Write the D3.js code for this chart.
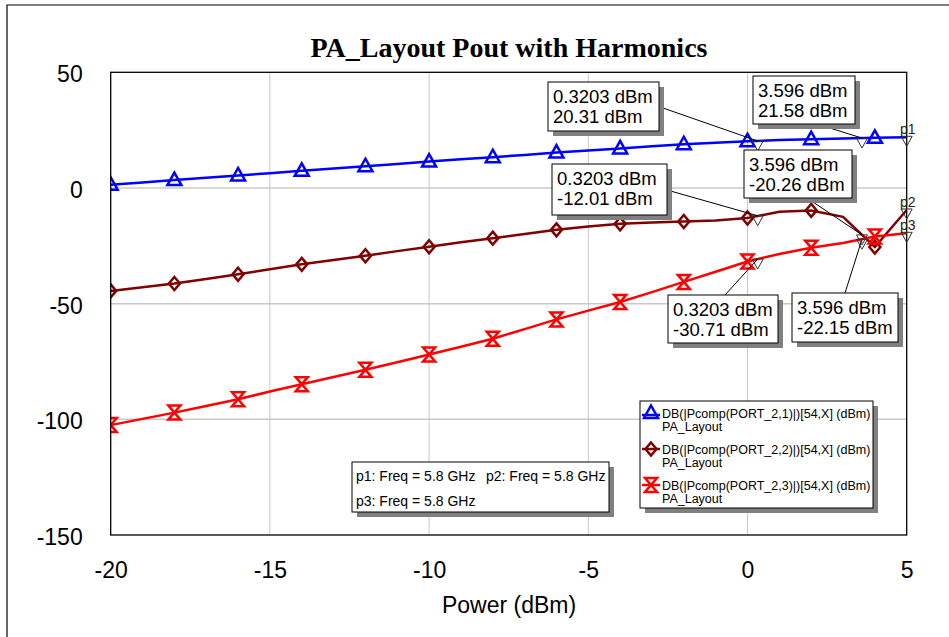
<!DOCTYPE html>
<html>
<head>
<meta charset="utf-8">
<script src="https://cdn.jsdelivr.net/npm/d3@7/dist/d3.min.js"></script>
<style>
  body { margin: 0; background: #fff; }
  #vis { width: 949px; height: 637px; }
  text { font-family: Arial, "Liberation Sans", sans-serif; }
</style>
</head>
<body>
<div id="vis"></div>
<script>
var width = 949;
var height = 637;

// swept input power (dBm)
var power = [-20, -19, -18, -17, -16, -15, -14, -13, -12, -11, -10, -9, -8,
  -7, -6, -5, -4, -3, -2, -1, 0, 1, 2, 3, 4, 5];

// DB(|Pcomp(PORT_2,1)|) fundamental
var harm1 = [1.4, 2.4, 3.4, 4.4, 5.4, 6.4, 7.4, 8.4, 9.4, 10.4, 11.4, 12.4, 13.3,
  14.3, 15.3, 16.2, 17.1, 18.0, 18.9, 19.6, 20.2, 20.7, 21.1, 21.4, 21.7, 21.9];
// DB(|Pcomp(PORT_2,2)|) 2nd harmonic
var harm2 = [-44.5, -42.9, -41.3, -39.3, -37.3, -35.1, -33.0, -31.1, -29.3, -27.3, -25.4, -23.5, -21.7,
  -19.9, -18.1, -16.7, -15.5, -14.9, -14.5, -14.1, -13.0, -10.3, -9.7, -12.5, -25.5, -9.5];
// DB(|Pcomp(PORT_2,3)|) 3rd harmonic
var harm3 = [-102.5, -99.8, -97.1, -94.2, -91.3, -88.0, -84.8, -81.7, -78.6, -75.3, -72.0, -68.6, -65.2,
  -61.0, -56.8, -53.0, -49.3, -45.0, -40.6, -36.2, -31.8, -28.5, -25.8, -23.8, -21.0, -19.6];

var xTicks = [-20, -15, -10, -5, 0, 5];
var yTicks = [50, 0, -50, -100, -150];

var seriesNames = ['DB(|Pcomp(PORT_2,1)|)[54,X] (dBm)', 'DB(|Pcomp(PORT_2,2)|)[54,X] (dBm)', 'DB(|Pcomp(PORT_2,3)|)[54,X] (dBm)'];
var seriesColors = ['#0000ff', '#800000', '#ff0000'];
var seriesShapes = ['triangle', 'diamond', 'hourglass'];

// marker readouts
var markerX = [0.3203, 3.596, 0.3203, 3.596, 0.3203, 3.596];
var markerY = [20.31, 21.58, -12.01, -20.26, -30.71, -22.15];
var markerText = [['0.3203 dBm', '20.31 dBm'], ['3.596 dBm', '21.58 dBm'], ['0.3203 dBm', '-12.01 dBm'],
  ['3.596 dBm', '-20.26 dBm'], ['0.3203 dBm', '-30.71 dBm'], ['3.596 dBm', '-22.15 dBm']];
var freqText = ['p1: Freq = 5.8 GHz', 'p2: Freq = 5.8 GHz', 'p3: Freq = 5.8 GHz'];

var margin = { top: 72.3, bottom: 102, left: 110.7, right: 42.3 };

var svg = d3.select('#vis')
.append('svg')
.attr('width', width)
.attr('height', height);

// outer frame
svg.append('path')
.attr('d', 'M7,637 L7,5 L949,5')
.attr('fill', 'none')
.attr('stroke', '#000')
.attr('stroke-width', 1.2);

var pw = width - margin.left - margin.right;
var ph = height - margin.top - margin.bottom;

var g = svg.append('g')
.attr('transform', 'translate(' + margin.left + ',' + margin.top + ')');

var x_scale = d3.scaleLinear().domain([-20, 5]).range([0, pw]);
var y_scale = d3.scaleLinear().domain([-150, 50]).range([ph, 0]);

// grid
g.selectAll('.gx').data(xTicks.slice(1, -1)).enter()
.append('line')
.attr('x1', function(d) { return x_scale(d); })
.attr('x2', function(d) { return x_scale(d); })
.attr('y1', 0).attr('y2', ph)
.attr('stroke', '#c8c8c8').attr('stroke-width', 1);

g.selectAll('.gy').data(yTicks.slice(1, -1)).enter()
.append('line')
.attr('y1', function(d) { return y_scale(d); })
.attr('y2', function(d) { return y_scale(d); })
.attr('x1', 0).attr('x2', pw)
.attr('stroke', '#c8c8c8').attr('stroke-width', 1.5);

// axes (labels only, ticks hidden); plain hyphen for negatives
var plain = function(d) { return String(d); };
var y_axis = d3.axisLeft(y_scale).tickValues(yTicks).tickFormat(plain).tickSize(0).tickPadding(28);
var x_axis = d3.axisBottom(x_scale).tickValues(xTicks).tickFormat(plain).tickSize(0).tickPadding(27);

g.append('g').call(y_axis)
.call(function(a) { a.select('.domain').remove(); })
.selectAll('text')
.attr('dy', '0.42em')
.style('font-size', '23px')
.style('font-family', 'Arial, "Liberation Sans", sans-serif')
.attr('fill', '#000');

g.append('g')
.attr('transform', 'translate(0,' + ph + ')')
.call(x_axis)
.call(function(a) { a.select('.domain').remove(); })
.selectAll('text')
.style('font-size', '23px')
.style('font-family', 'Arial, "Liberation Sans", sans-serif')
.attr('fill', '#000');

svg.append('text')
.attr('x', 509).attr('y', 613)
.attr('text-anchor', 'middle')
.style('font-size', '23px')
.text('Power (dBm)');

svg.append('text')
.attr('x', 509).attr('y', 57)
.attr('text-anchor', 'middle')
.style('font-family', '"Times New Roman", "Liberation Serif", serif')
.style('font-weight', 'bold')
.style('font-size', '28px')
.text('PA_Layout Pout with Harmonics');

// clip for traces
g.append('clipPath').attr('id', 'clip')
.append('rect').attr('width', pw).attr('height', ph);

var shapePath = {
  triangle: 'M0,-7.5 L7,5 L-7,5 Z',
  diamond: 'M0,-6.5 L5.5,0 L0,6.5 L-5.5,0 Z',
  hourglass: 'M-6,-7 L6,-7 L-6,7 L6,7 Z'
};

var line = d3.line()
.x(function(d) { return x_scale(d[0]); })
.y(function(d) { return y_scale(d[1]); });

var traces = g.append('g').attr('clip-path', 'url(#clip)');

[harm1, harm2, harm3].forEach(function(vals, i) {
  var pts = power.map(function(p, k) { return [p, vals[k]]; });
  traces.append('path')
  .datum(pts)
  .attr('d', line)
  .attr('fill', 'none')
  .attr('stroke', seriesColors[i])
  .attr('stroke-width', 2.5);

  traces.selectAll('.m' + i)
  .data(pts.filter(function(d) { return d[0] % 2 === 0 && d[0] < 5; }))
  .enter()
  .append('path')
  .attr('transform', function(d) { return 'translate(' + x_scale(d[0]) + ',' + y_scale(d[1]) + ')'; })
  .attr('d', shapePath[seriesShapes[i]])
  .attr('fill', 'none')
  .attr('stroke', seriesColors[i])
  .attr('stroke-width', 2.5);
});

// plot border
g.append('rect')
.attr('width', pw).attr('height', ph)
.attr('fill', 'none')
.attr('stroke', '#000')
.attr('stroke-width', 1.3);

// small marker triangles hanging below a point
function markTri(px, py) {
  g.append('path')
  .attr('d', 'M' + (px - 5.5) + ',' + py + ' L' + (px + 5.5) + ',' + py + ' L' + px + ',' + (py + 10) + ' Z')
  .attr('fill', 'none')
  .attr('stroke', '#333')
  .attr('stroke-width', 1);
}

// p1..p3 at the end of each trace
[harm1, harm2, harm3].forEach(function(vals, i) {
  var py = y_scale(vals[vals.length - 1]);
  markTri(x_scale(5), py - 1);
  g.append('text')
  .attr('x', x_scale(5) + 1).attr('y', py - 3)
  .attr('text-anchor', 'middle')
  .style('font-size', '14px')
  .attr('fill', '#222')
  .text('p' + (i + 1));
});

// readout boxes (box left/top, box size, leader start)
var boxPos = [[548, 82, 111, 49, 663, 108], [753, 76, 102, 48, 817, 124], [552, 164, 115, 51, 667, 190],
  [744, 150, 108, 48, 807, 198], [668, 295, 110, 48, 725, 295], [792, 293, 106, 49, 845, 293]];

markerX.forEach(function(mx, i) {
  var px = x_scale(mx) + margin.left;
  var py = y_scale(markerY[i]) + margin.top;
  var b = boxPos[i];
  markTri(px - margin.left, py - margin.top);
  svg.append('line')
  .attr('x1', b[4]).attr('y1', b[5])
  .attr('x2', px).attr('y2', py)
  .attr('stroke', '#000').attr('stroke-width', 1);
  svg.append('rect')
  .attr('x', b[0] + 5).attr('y', b[1] + 5).attr('width', b[2]).attr('height', b[3])
  .attr('fill', '#808080');
  svg.append('rect')
  .attr('x', b[0]).attr('y', b[1]).attr('width', b[2]).attr('height', b[3])
  .attr('fill', '#fff').attr('stroke', '#000').attr('stroke-width', 1);
  markerText[i].forEach(function(t, k) {
    svg.append('text')
    .attr('x', b[0] + 5).attr('y', b[1] + 21 + k * 20)
    .style('font-size', '18.5px')
    .text(t);
  });
});

// frequency box
svg.append('rect').attr('x', 357).attr('y', 467).attr('width', 257).attr('height', 50).attr('fill', '#808080');
svg.append('rect').attr('x', 352).attr('y', 462).attr('width', 257).attr('height', 50)
.attr('fill', '#fff').attr('stroke', '#000').attr('stroke-width', 1);
svg.append('text').attr('x', 356).attr('y', 481).style('font-size', '14px').text(freqText[0]);
svg.append('text').attr('x', 486).attr('y', 481).style('font-size', '14px').text(freqText[1]);
svg.append('text').attr('x', 356).attr('y', 506).style('font-size', '14px').text(freqText[2]);

// legend
svg.append('rect').attr('x', 645).attr('y', 406).attr('width', 233).attr('height', 107).attr('fill', '#808080');
svg.append('rect').attr('x', 640).attr('y', 401).attr('width', 233).attr('height', 107)
.attr('fill', '#fff').attr('stroke', '#000').attr('stroke-width', 1);

seriesNames.forEach(function(name, i) {
  var cy = 413 + i * 36;
  svg.append('line')
  .attr('x1', 642).attr('x2', 660).attr('y1', cy + (i === 0 ? 2 : 0)).attr('y2', cy + (i === 0 ? 2 : 0))
  .attr('stroke', seriesColors[i]).attr('stroke-width', 2.5);
  svg.append('path')
  .attr('transform', 'translate(651,' + cy + ')')
  .attr('d', shapePath[seriesShapes[i]])
  .attr('fill', 'none')
  .attr('stroke', seriesColors[i])
  .attr('stroke-width', 2.5);
  svg.append('text').attr('x', 662).attr('y', cy + 5).style('font-size', '12.5px').text(name);
  svg.append('text').attr('x', 662).attr('y', cy + 18).style('font-size', '12.5px').text('PA_Layout');
});
</script>
</body>
</html>
